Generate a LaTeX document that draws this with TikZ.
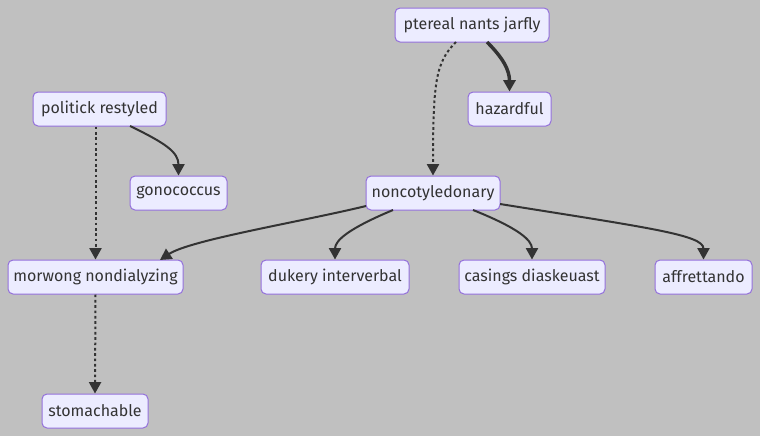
\documentclass[tikz,border=0pt]{standalone}
\usepackage{fontspec}
\setmainfont{Fira Sans}
\usetikzlibrary{arrows.meta}
\definecolor{bg}{HTML}{C0C0C0}
\definecolor{nodefill}{HTML}{ECECFF}
\definecolor{nodeline}{HTML}{9370DB}
\definecolor{edge}{HTML}{333333}
\begin{document}
\begin{tikzpicture}[x=0.75pt,y=-0.75pt,
  box/.style={draw=nodeline,fill=nodefill,line width=0.75pt,rounded corners=3.75pt,
    minimum height=25.5pt,inner sep=0pt,font=\fontsize{12}{14}\selectfont,text=black!80},
  link/.style={draw=edge,line width=1.5pt,-{Triangle[length=8.5pt,width=9pt]},color=edge},
  thicklink/.style={draw=edge,line width=2.6pt,-{Triangle[length=8.5pt,width=9pt]},color=edge},
  dotlink/.style={draw=edge,line width=1.5pt,dash pattern=on 2pt off 2pt,-{Triangle[length=8.5pt,width=9pt]},color=edge}]
\fill[bg] (0,0) rectangle (760,436);
\useasboundingbox (0,0) rectangle (760,436);
\node[box,minimum width=115.5pt] (pt) at (472,25) {ptereal nants jarfly};
\node[box,minimum width=62.25pt] (hz) at (509.5,109) {hazardful};
\node[box,minimum width=99.75pt] (po) at (99.5,109) {politick restyled};
\node[box,minimum width=72.75pt] (go) at (178.5,193) {gonococcus};
\node[box,minimum width=100.5pt] (no) at (433,193) {noncotyledonary};
\node[box,minimum width=131.25pt] (mo) at (95.5,277) {morwong nondialyzing};
\node[box,minimum width=111pt] (du) at (335,277) {dukery interverbal};
\node[box,minimum width=109.5pt] (ca) at (532,277) {casings diaskeuast};
\node[box,minimum width=72.75pt] (af) at (703.5,277) {affrettando};
\node[box,minimum width=79.5pt] (st) at (95,411) {stomachable};
\coordinate (ptA) at (487,42);
\coordinate (ptB) at (456,42);
\coordinate (poA) at (130,126);
\coordinate (noA) at (366,206);
\coordinate (noB) at (393,210);
\coordinate (noC) at (473,210);
\coordinate (noD) at (500,204);
\coordinate (moE) at (160,260);
\draw[thicklink] (ptA) .. controls (503,58) and (509.5,70) .. (hz.north);
\draw[dotlink] (ptB) .. controls (436,62) and (433,80) .. (no.north);
\draw[link] (poA) .. controls (165,143) and (178.5,152) .. (go.north);
\draw[dotlink] (po.south -| mo.north) -- (mo.north);
\draw[link] (noA) .. controls (300,222) and (190,240) .. (moE);
\draw[link] (noB) .. controls (350,228) and (335,240) .. (du.north);
\draw[link] (noC) .. controls (518,228) and (532,240) .. (ca.north);
\draw[link] (noD) .. controls (650,228) and (703.5,235) .. (af.north);
\draw[dotlink] (mo.south) -- (st.north);
\end{tikzpicture}
\end{document}
